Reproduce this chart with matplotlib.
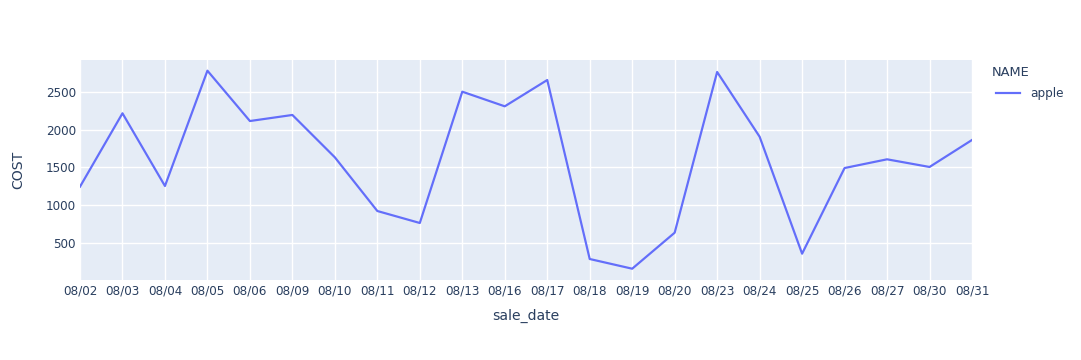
import matplotlib
matplotlib.use("Agg")
import matplotlib.pyplot as plt
from matplotlib.lines import Line2D

# ---------------------------------------------------------------------------
# Data
# ---------------------------------------------------------------------------
sale_dates = ["08/02", "08/03", "08/04", "08/05", "08/06", "08/09", "08/10",
              "08/11", "08/12", "08/13", "08/16", "08/17", "08/18", "08/19",
              "08/20", "08/23", "08/24", "08/25", "08/26", "08/27", "08/30",
              "08/31"]
apple_cost = [1247, 2215, 1256, 2777, 2113, 2193, 1634, 926, 768, 2500, 2307,
              2654, 293, 165, 640, 2760, 1906, 363, 1493, 1608, 1507, 1863]
y_ticks = [500, 1000, 1500, 2000, 2500]
series_name = "apple"
legend_title = "NAME"

BG = "#E5ECF6"
LINE = "#636EFA"
TEXT = "#2a3f5f"
PX = 0.72  # points per pixel at 100 dpi

plt.rcParams["font.family"] = ["DejaVu Sans"]

W, H = 1081, 360
fig = plt.figure(figsize=(W / 100, H / 100), dpi=100)
ax = fig.add_axes([80 / W, 1 - 280 / H, (972 - 80) / W, (280 - 60) / H])
ax.set_facecolor(BG)

x = list(range(len(sale_dates)))
ax.plot(x, apple_cost, color=LINE, lw=2 * PX * 1.1, solid_joinstyle="round")

ax.set_xlim(0, len(sale_dates) - 1)
ax.set_ylim(16, 2918)
ax.set_xticks(x)
ax.set_xticklabels(sale_dates)
ax.set_yticks(y_ticks)
ax.grid(True, color="white", lw=1)
ax.set_axisbelow(True)
for s in ax.spines.values():
    s.set_visible(False)
ax.tick_params(length=0, labelsize=12 * PX, labelcolor=TEXT, pad=3)

# axis titles, placed in figure pixels like plotly does
fig.text(526 / W, 1 - 316 / H, "sale_date", fontsize=14 * PX, color=TEXT,
         ha="center", va="center")
fig.text(18 / W, 1 - 170 / H, "COST", fontsize=14 * PX, color=TEXT,
         ha="center", va="center", rotation=90)

# legend
fig.text(992 / W, 1 - 73 / H, legend_title, fontsize=13 * PX, color=TEXT,
         va="center", ha="left")
fig.add_artist(Line2D([996 / W, 1020 / W], [1 - 93 / H, 1 - 93 / H],
                      color=LINE, lw=2 * PX * 1.1, transform=fig.transFigure))
fig.text(1030 / W, 1 - 93 / H, series_name, fontsize=12 * PX, color=TEXT,
         va="center", ha="left")

fig.savefig("out.png", dpi=100, facecolor="white")
